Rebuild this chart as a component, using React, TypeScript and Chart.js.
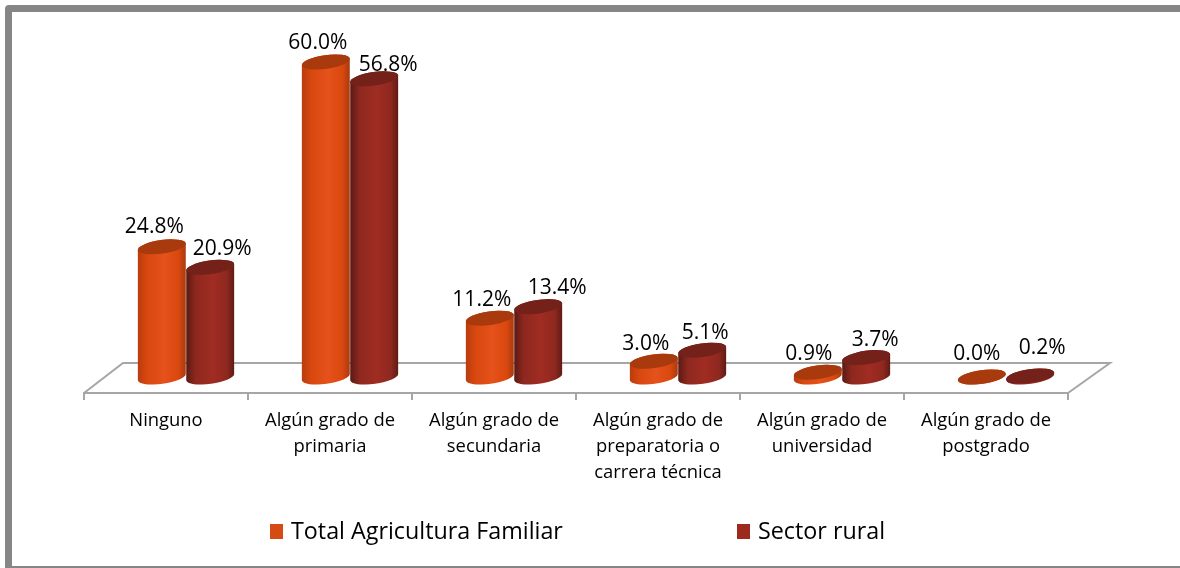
import React, { useEffect, useRef } from "react";
import { Chart, registerables, BarController } from "chart.js";

Chart.register(...registerables);

const categories: string[][] = [
  ["Ninguno"],
  ["Algún grado de", "primaria"],
  ["Algún grado de", "secundaria"],
  ["Algún grado de", "preparatoria o", "carrera técnica"],
  ["Algún grado de", "universidad"],
  ["Algún grado de", "postgrado"],
];
const totalAgricultura = [24.8, 60.0, 11.2, 3.0, 0.9, 0.0];
const sectorRural = [20.9, 56.8, 13.4, 5.1, 3.7, 0.2];

// label nudges relative to the top of each cylinder (hand-placed in the original)
const labelNudgeTotal = [[-7.5, -19.3], [-8, -18.5], [-8, -17.7], [-8, -17.7], [-9, -17.8], [-5, -22.5]];
const labelNudgeRural = [[12, -17.8], [14, -13.3], [19, -18.2], [3, -17.7], [9, -17.1], [12, -27.5]];

const FONT = "'Open Sans', 'Noto Sans', sans-serif";
const DEPTH_X = 20;
const TILT = (-8 * Math.PI) / 180;
const RY = 6.8;

class CylinderController extends BarController {
  static id = "cylinder";
  static defaults = { ...BarController.defaults, dataElementType: "bar" };
  draw() {
    const ctx = this.chart.ctx;
    const ds: any = this.getDataset();
    const meta = this._cachedMeta;
    meta.data.forEach((el: any, i: number) => {
      const cx = el.x + DEPTH_X;
      const rx = el.width / 2;
      const top = el.y;
      const base = el.base;
      const dx = rx * Math.cos(TILT);
      const g = ctx.createLinearGradient(cx - dx, 0, cx + dx, 0);
      ds.shade.forEach((c: string, k: number) => g.addColorStop(ds.stops[k], c));
      ctx.save();
      ctx.beginPath();
      ctx.ellipse(cx, base, rx, RY, TILT, 0, Math.PI, false);
      ctx.ellipse(cx, top, rx, RY, TILT, Math.PI, Math.PI * 2, false);
      ctx.closePath();
      ctx.fillStyle = g;
      ctx.fill();
      ctx.beginPath();
      ctx.ellipse(cx, top, rx, RY, TILT, 0, Math.PI * 2);
      ctx.fillStyle = ds.cap;
      ctx.fill();
      ctx.restore();
      const nudge = ds.nudge[i];
      ctx.save();
      ctx.font = `21px ${FONT}`;
      ctx.fillStyle = "#000";
      ctx.textAlign = "center";
      ctx.textBaseline = "middle";
      ctx.fillText(ds.data[i].toFixed(1) + "%", cx + nudge[0], top + nudge[1]);
      ctx.restore();
    });
  }
}
Chart.register(CylinderController);

const floorPlugin = {
  id: "floor",
  beforeDatasetsDraw(chart: any) {
    const { ctx, chartArea: a } = chart;
    ctx.save();
    ctx.strokeStyle = "#A6A6A6";
    ctx.lineWidth = 2;
    ctx.beginPath();
    ctx.moveTo(a.left, a.bottom);
    ctx.lineTo(a.left + 39, a.bottom - 30);
    ctx.lineTo(a.right + 42, a.bottom - 30);
    ctx.lineTo(a.right, a.bottom);
    ctx.stroke();
    ctx.restore();
  },
};

const legendPlugin = {
  id: "wideLegend",
  afterDraw(chart: any) {
    const { ctx } = chart;
    const starts = [270, 737];
    ctx.save();
    ctx.font = `23.3px ${FONT}`;
    ctx.textBaseline = "middle";
    chart.data.datasets.forEach((ds: any, i: number) => {
      ctx.fillStyle = ds.backgroundColor;
      ctx.fillRect(starts[i], 524, 13, 15);
      ctx.fillStyle = "#000";
      ctx.fillText(ds.label, starts[i] + 21, 532.5);
    });
    ctx.restore();
  },
};

export default function App() {
  const ref = useRef<HTMLCanvasElement>(null);
  useEffect(() => {
    const chart = new Chart(ref.current!, {
      type: "cylinder" as any,
      data: {
        labels: categories as any,
        datasets: [
          {
            label: "Total Agricultura Familiar",
            data: totalAgricultura,
            backgroundColor: "#D64B14",
            cap: "#A83A0E",
            shade: ["#B93C0D", "#D8480F", "#E5521B", "#D9480F", "#A83A10"],
            stops: [0, 0.2, 0.55, 0.85, 1],
            nudge: labelNudgeTotal,
          } as any,
          {
            label: "Sector rural",
            data: sectorRural,
            backgroundColor: "#9C2A1E",
            cap: "#74211A",
            shade: ["#5A1A14", "#8E281F", "#A02C22", "#8E281F", "#5E1B14"],
            stops: [0, 0.2, 0.55, 0.85, 1],
            nudge: labelNudgeRural,
          } as any,
        ],
      },
      options: {
        responsive: false,
        animation: false,
        events: [],
        layout: { padding: { left: 84, right: 112, top: 20, bottom: 74 } },
        datasets: { cylinder: { categoryPercentage: 0.59, barPercentage: 1 } } as any,
        plugins: { legend: { display: false }, tooltip: { enabled: false } },
        scales: {
          x: {
            type: "category",
            grid: { drawOnChartArea: false, drawTicks: true, tickLength: 7, color: "#A6A6A6", lineWidth: 2 },
            border: { color: "#A6A6A6", width: 2 },
            ticks: {
              maxRotation: 0,
              minRotation: 0,
              autoSkip: false,
              padding: 8,
              color: "#000",
              font: { family: FONT, size: 18.4, lineHeight: 26 / 18.4 },
            },
          },
          y: { type: "linear", display: false, min: -3.048, max: 68.0, grid: { display: false } },
        },
      } as any,
      plugins: [floorPlugin, legendPlugin],
    });
    return () => chart.destroy();
  }, []);
  return (
    <div style={{ position: "absolute", left: 0, top: 0, width: 1180, height: 568, overflow: "hidden", background: "#fff" }}>
      <canvas ref={ref} width={1180} height={568} style={{ position: "absolute", left: 0, top: 0 }} />
      <div
        style={{
          position: "absolute",
          left: 5,
          top: 5,
          width: 1200,
          height: 568,
          boxSizing: "border-box",
          border: "7px solid #868686",
          borderRadius: 4,
          pointerEvents: "none",
        }}
      />
    </div>
  );
}
